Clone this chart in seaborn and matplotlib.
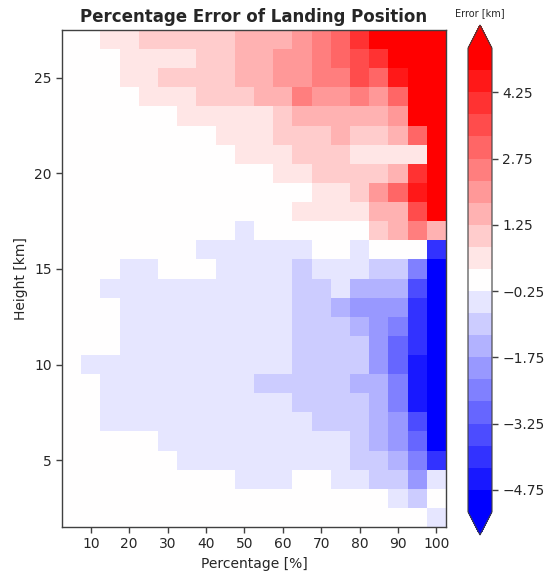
import matplotlib
matplotlib.use("Agg")
import matplotlib.pyplot as plt
from matplotlib.colors import BoundaryNorm, ListedColormap
import numpy as np
import pandas as pd
import seaborn as sns

# ---------------- data ----------------
percentages = [5, 10, 15, 20, 25, 30, 35, 40, 45, 50,
               55, 60, 65, 70, 75, 80, 85, 90, 95, 100]
heights = [27, 26, 25, 24, 23, 22, 21, 20, 19, 18, 17, 16, 15,
           14, 13, 12, 11, 10, 9, 8, 7, 6, 5, 4, 3, 2]

# error of landing position [km], one row per height (27 km at top)
error_km = [
    [0, 0, 0.5, 0.5, 1, 1, 1, 1, 1, 1.5, 1.5, 1.5, 2, 2.5, 3, 4, 5, 5, 5, 5],              # 27
    [0, 0, 0, 0.5, 0.5, 0.5, 0.5, 1, 1, 1.5, 1.5, 2, 2, 2.5, 3, 3.5, 4, 5, 5, 5],          # 26
    [0, 0, 0, 0.5, 0.5, 1, 1, 1, 1, 1.5, 1.5, 2, 2, 2.5, 2.5, 3.5, 3, 4.5, 5, 5],          # 25
    [0, 0, 0, 0, 0.5, 0.5, 0.5, 1, 1, 1, 1.5, 1.5, 2.5, 2, 2, 2.5, 2, 3, 5, 5],            # 24
    [0, 0, 0, 0, 0, 0, 0.5, 0.5, 0.5, 0.5, 0.5, 1, 1.5, 1.5, 1.5, 1.5, 1.5, 2, 5, 5],      # 23
    [0, 0, 0, 0, 0, 0, 0, 0, 0.5, 0.5, 0.5, 1, 1, 1, 1.5, 1, 1, 1.5, 3, 5],                # 22
    [0, 0, 0, 0, 0, 0, 0, 0, 0, 0.5, 0.5, 0.5, 1, 1, 1, 0.5, 0.5, 0.5, 0.5, 5],            # 21
    [0, 0, 0, 0, 0, 0, 0, 0, 0, 0, 0, 0.5, 0.5, 1, 1, 1, 1, 1.5, 4, 5],                    # 20
    [0, 0, 0, 0, 0, 0, 0, 0, 0, 0, 0, 0, 0, 0.5, 0.5, 1, 2, 3, 4.5, 5],                    # 19
    [0, 0, 0, 0, 0, 0, 0, 0, 0, 0, 0, 0, 0.5, 0.5, 0.5, 0.5, 1.5, 1.5, 3.5, 5],            # 18
    [0, 0, 0, 0, 0, 0, 0, 0, 0, -0.5, 0, 0, 0, 0, 0, 0, 1, 1.5, 2.5, 1.5],                 # 17
    [0, 0, 0, 0, 0, 0, 0, -0.5, -0.5, -0.5, -0.5, -0.5, -0.5, 0, 0, -0.5, 0, 0, 0, -4],    # 16
    [0, 0, 0, -0.5, -0.5, 0, 0, 0, -0.5, -0.5, -0.5, -0.5, -1, -0.5, -0.5, -0.5, -1, -1, -2.5, -5],      # 15
    [0, 0, -0.5, -0.5, -0.5, -0.5, -0.5, -0.5, -0.5, -0.5, -0.5, -0.5, -1, -1, -0.5, -1.5, -1.5, -1.5, -3.5, -5],  # 14
    [0, 0, 0, -0.5, -0.5, -0.5, -0.5, -0.5, -0.5, -0.5, -0.5, -0.5, -1, -1, -1.5, -2, -2, -2, -4, -5],   # 13
    [0, 0, 0, -0.5, -0.5, -0.5, -0.5, -0.5, -0.5, -0.5, -0.5, -0.5, -1, -1, -1, -1.5, -2, -2.5, -4, -5], # 12
    [0, 0, 0, -0.5, -0.5, -0.5, -0.5, -0.5, -0.5, -0.5, -0.5, -0.5, -1, -1, -1, -1, -2, -3, -4, -5],     # 11
    [0, -0.5, -0.5, -0.5, -0.5, -0.5, -0.5, -0.5, -0.5, -0.5, -0.5, -0.5, -1, -1, -1, -1, -2, -3, -4.5, -5],  # 10
    [0, 0, -0.5, -0.5, -0.5, -0.5, -0.5, -0.5, -0.5, -0.5, -1, -1, -1, -1, -1, -1.5, -1.5, -2.5, -4.5, -5],   # 9
    [0, 0, -0.5, -0.5, -0.5, -0.5, -0.5, -0.5, -0.5, -0.5, -0.5, -0.5, -1, -1, -1, -1, -1.5, -2.5, -4.5, -5], # 8
    [0, 0, -0.5, -0.5, -0.5, -0.5, -0.5, -0.5, -0.5, -0.5, -0.5, -0.5, -0.5, -1, -1, -1, -1.5, -2, -3.5, -5], # 7
    [0, 0, 0, 0, 0, -0.5, -0.5, -0.5, -0.5, -0.5, -0.5, -0.5, -0.5, -0.5, -0.5, -1, -1.5, -2, -3, -5],       # 6
    [0, 0, 0, 0, 0, 0, -0.5, -0.5, -0.5, -0.5, -0.5, -0.5, -0.5, -0.5, -0.5, -1, -1, -1.5, -2.5, -4],        # 5
    [0, 0, 0, 0, 0, 0, 0, 0, 0, -0.5, -0.5, -0.5, 0, 0, -0.5, -0.5, -1, -1, -2, -0.5],                       # 4
    [0, 0, 0, 0, 0, 0, 0, 0, 0, 0, 0, 0, 0, 0, 0, 0, 0, -0.5, -1, 0],                                         # 3
    [0, 0, 0, 0, 0, 0, 0, 0, 0, 0, 0, 0, 0, 0, 0, 0, 0, 0, 0, -0.5],                                          # 2
]

levels = [-5.25, -4.75, -4.25, -3.75, -3.25, -2.75, -2.25, -1.75, -1.25, -0.75, -0.25,
          0.25, 0.75, 1.25, 1.75, 2.25, 2.75, 3.25, 3.75, 4.25, 4.75, 5.25]
cbar_ticks = [-4.75, -3.25, -1.75, -0.25, 1.25, 2.75, 4.25]
x_ticks = [10, 20, 30, 40, 50, 60, 70, 80, 90, 100]
y_ticks = [5, 10, 15, 20, 25]

# ---------------- style ----------------
sns.set_style("ticks")
plt.rcParams["font.family"] = ["DejaVu Sans"]
plt.rcParams["text.color"] = "0.15"
plt.rcParams["axes.labelcolor"] = "0.15"
plt.rcParams["xtick.color"] = "0.15"
plt.rcParams["ytick.color"] = "0.15"

W, H = 544, 573
fig = plt.figure(figsize=(W / 100, H / 100), dpi=100)
ax = fig.add_axes([62 / W, 1 - 527 / H, 384 / W, 497 / H])
cax = fig.add_axes([468 / W, 1 - 535 / H, 24 / W, 510 / H])

df = pd.DataFrame(error_km, index=heights, columns=percentages)
n_bands = len(levels) - 1
base = plt.get_cmap("bwr")
cmap = ListedColormap(base(np.linspace(0, 1, n_bands)))
cmap.set_under(base(0.0))
cmap.set_over(base(1.0))
norm = BoundaryNorm(levels, n_bands)

sns.heatmap(df, ax=ax, cmap=cmap, norm=norm, cbar_ax=cax,
            cbar_kws={"extend": "both", "ticks": cbar_ticks},
            xticklabels=False, yticklabels=False, linewidths=0)

# numeric ticks placed on the heatmap's categorical cell positions
ax.set_xticks([percentages.index(p) + 0.5 for p in x_ticks])
ax.set_xticklabels([str(p) for p in x_ticks], rotation=0)
ax.set_yticks([heights.index(h) + 0.5 for h in y_ticks])
ax.set_yticklabels([str(h) for h in y_ticks], rotation=0)

for s in ax.spines.values():
    s.set_visible(True)
    s.set_linewidth(1.0)
    s.set_color("0.25")
ax.tick_params(axis="both", direction="out", length=4, width=1,
               labelsize=10, color="0.25")

ax.set_xlabel("Percentage [%]", fontsize=10)
ax.set_ylabel("Height [km]", fontsize=10)
ax.set_title("Percentage Error of Landing Position", fontsize=12,
             fontweight="bold")

cb = ax.collections[0].colorbar
cb.ax.minorticks_off()
cb.set_ticks(cbar_ticks)
cb.outline.set_linewidth(0.8)
cb.outline.set_edgecolor("0.25")
cb.ax.tick_params(which="major", labelsize=10, length=4, width=1, color="0.25")
cb.ax.tick_params(which="minor", length=0)
fig.text(480 / W, 1 - 13 / H, "Error [km]", fontsize=7, ha="center", va="center")

fig.savefig("out.png", dpi=100)
